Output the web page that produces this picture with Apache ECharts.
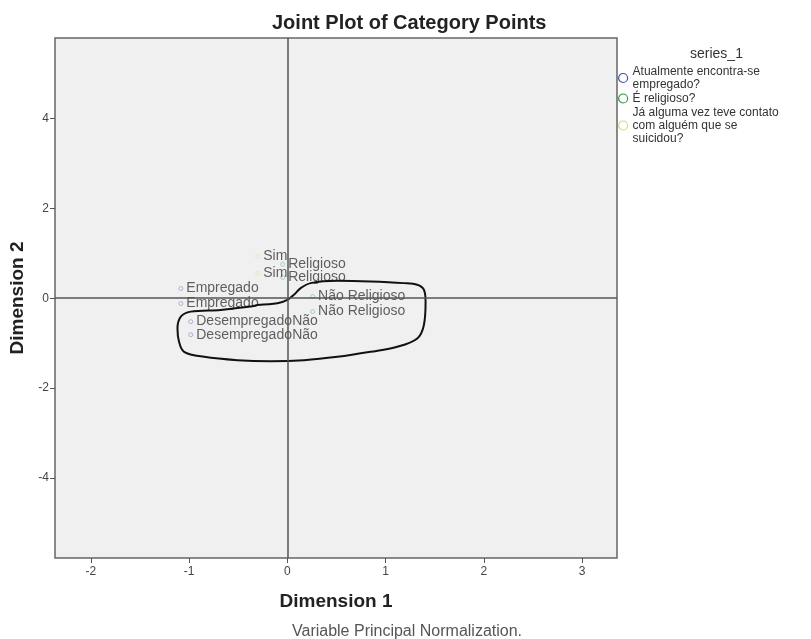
<!DOCTYPE html>
<html>
<head>
<meta charset="utf-8">
<script src="https://cdn.jsdelivr.net/npm/echarts@6/dist/echarts.min.js"></script>
<style>html,body{margin:0;padding:0;background:#fff;}#chart{width:811px;height:639px;}</style>
</head>
<body>
<div id="chart"></div>
<script>
// Series names (legend)
const seriesNames = [
  'Atualmente encontra-se\nempregado?',
  'É religioso?',
  'Já alguma vez teve contato\ncom alguém que se\nsuicidou?'
];
const seriesColors = ['#4050a8', '#2f9a40', '#d9d985'];
const markerColors = ['rgba(64,80,168,0.45)', 'rgba(47,154,64,0.45)', 'rgba(217,217,133,0.5)'];

// Category points: "Atualmente encontra-se empregado?"
const empregoLabels = ['Empregado', 'Empregado', 'Desempregado', 'Desempregado'];
const empregoX = [-1.085, -1.085, -0.984, -0.984];
const empregoY = [0.217, -0.119, -0.521, -0.812];

// Category points: "É religioso?"
const religiaoLabels = ['Religioso', 'Religioso', 'Não Religioso', 'Não Religioso'];
const religiaoX = [-0.048, -0.048, 0.257, 0.257];
const religiaoY = [0.754, 0.463, 0.038, -0.298];

// Category points: "Já alguma vez teve contato com alguém que se suicidou?"
const contatoLabels = ['Sim', 'Sim', 'Não', 'Não'];
const contatoX = [-0.302, -0.302, -0.007, -0.007];
const contatoY = [0.933, 0.553, -0.521, -0.812];

// Hand-drawn outline
const outlineX = [-0.305, -0.373, -0.679, -0.984, -1.085, -1.119, -1.103, -1.052, -0.848, -0.509, -0.170, 0.169, 0.509, 0.847, 1.119, 1.322, 1.390, 1.407, 1.390, 1.322, 1.186, 0.847, 0.509, 0.237, 0.135, 0.067, 0.000, -0.102, -0.305];
const outlineY = [-0.148, -0.186, -0.260, -0.298, -0.409, -0.671, -0.969, -1.192, -1.304, -1.378, -1.400, -1.378, -1.304, -1.192, -1.081, -0.895, -0.595, -0.074, 0.188, 0.300, 0.336, 0.374, 0.389, 0.336, 0.224, 0.076, -0.036, -0.112, -0.148];

// Axis ticks
const xTicks = [-2, -1, 0, 1, 2, 3];
const yTicks = [-4, -2, 0, 2, 4];

const pointSets = [
  [empregoLabels, empregoX, empregoY],
  [religiaoLabels, religiaoX, religiaoY],
  [contatoLabels, contatoX, contatoY]
];

const labelFont = 'Liberation Sans, Arial, sans-serif';

const scatterSeries = pointSets.map(function (set, i) {
  return {
    name: seriesNames[i],
    type: 'scatter',
    symbol: 'circle',
    symbolSize: 4,
    itemStyle: { color: 'rgba(0,0,0,0)', borderColor: markerColors[i], borderWidth: 1 },
    label: {
      show: true,
      position: 'right',
      distance: 3,
      formatter: function (p) { return p.data[2]; },
      fontFamily: labelFont,
      fontSize: 14,
      color: '#3a3a3a'
    },
    data: set[0].map(function (lab, j) { return [set[1][j], set[2][j], lab]; }),
    z: 3
  };
});

const chart = echarts.init(document.getElementById('chart'), null, { renderer: 'canvas' });

chart.setOption({
  animation: false,
  backgroundColor: '#ffffff',
  title: [
    {
      text: 'Joint Plot of Category Points',
      left: 267, top: 8,
      textStyle: { fontFamily: labelFont, fontSize: 20, fontWeight: 'bold', color: '#222' }
    },
    {
      text: 'Variable Principal Normalization.',
      left: 287, top: 619,
      textStyle: { fontFamily: labelFont, fontSize: 16, fontWeight: 'normal', color: '#555' }
    },
    {
      text: 'series_1',
      left: 685, top: 42,
      textStyle: { fontFamily: labelFont, fontSize: 14, fontWeight: 'normal', color: '#333' }
    }
  ],
  legend: {
    orient: 'vertical',
    left: 618, top: 65,
    padding: 0,
    itemWidth: 9, itemHeight: 9, itemGap: 1,
    data: seriesNames.map(function (n, i) {
      return { name: n, icon: 'circle', itemStyle: { color: 'rgba(0,0,0,0)', borderColor: seriesColors[i], borderWidth: 1.2, opacity: 1 } };
    }),
    textStyle: { fontFamily: labelFont, fontSize: 12, lineHeight: 13, color: '#333' }
  },
  grid: {
    left: 54, top: 38, right: 194, bottom: 81,
    show: true, backgroundColor: '#f0f0f0', borderColor: '#666', borderWidth: 1.5
  },
  xAxis: {
    type: 'value', min: -2.366, max: 3.356,
    name: 'Dimension 1', nameLocation: 'middle', nameGap: 34,
    nameTextStyle: { fontFamily: labelFont, fontSize: 19, fontWeight: 'bold', color: '#222' },
    axisLine: { show: false, onZero: false },
    splitLine: { show: false },
    axisTick: { show: true, length: 5, customValues: xTicks, lineStyle: { color: '#555' } },
    axisLabel: { customValues: xTicks, fontFamily: labelFont, fontSize: 12, color: '#444', margin: 8 }
  },
  yAxis: {
    type: 'value', min: -5.78, max: 5.79,
    name: 'Dimension 2', nameLocation: 'middle', nameGap: 28,
    nameTextStyle: { fontFamily: labelFont, fontSize: 19, fontWeight: 'bold', color: '#222' },
    axisLine: { show: false, onZero: false },
    splitLine: { show: false },
    axisTick: { show: true, length: 5, customValues: yTicks, lineStyle: { color: '#555' } },
    axisLabel: { customValues: yTicks, fontFamily: labelFont, fontSize: 12, color: '#444', margin: 6 }
  },
  series: scatterSeries.concat([
    {
      name: 'outline',
      type: 'line',
      smooth: 0.35,
      showSymbol: false,
      symbol: 'none',
      lineStyle: { color: '#111', width: 2 },
      data: outlineX.map(function (x, i) { return [x, outlineY[i]]; }),
      markLine: {
        silent: true,
        symbol: 'none',
        label: { show: false },
        lineStyle: { color: '#555', width: 1.5, type: 'solid' },
        data: [{ xAxis: 0 }, { yAxis: 0 }]
      },
      z: 4
    }
  ])
});
</script>
</body>
</html>
